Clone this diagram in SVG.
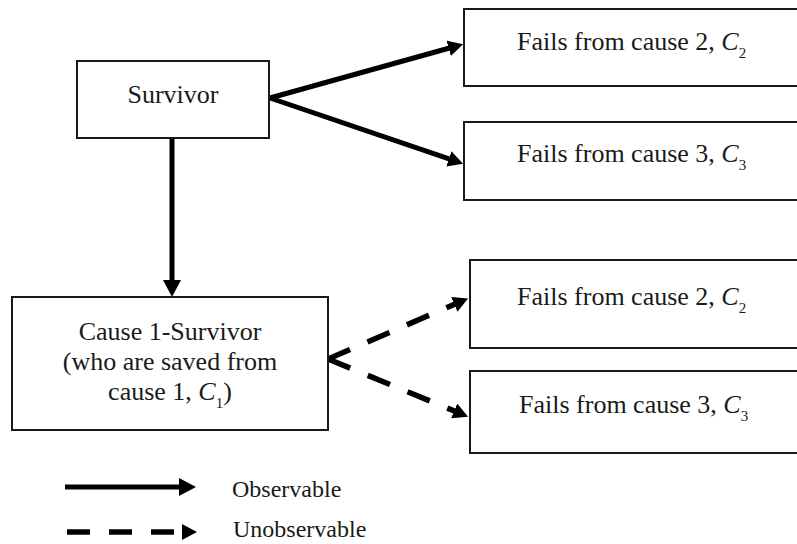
<svg xmlns="http://www.w3.org/2000/svg" width="797" height="544" viewBox="0 0 797 544">
<defs>
<style>
.box{fill:#fff;stroke:#1a1a1a;stroke-width:2}
.lbl{font-family:'Liberation Serif','DejaVu Serif','Times New Roman',serif;font-size:26px;fill:#1a1a1a}
.leg{font-size:24px}
.it{font-style:italic}
.sub{font-size:15px}
.solid{fill:none;stroke:#000;stroke-width:5}
.dash{fill:none;stroke:#000;stroke-width:5.5;stroke-dasharray:24 19}
.dashL{fill:none;stroke:#000;stroke-width:5.5;stroke-dasharray:23 19}
</style>
<marker id="head" viewBox="0 -9 17 18" refX="1" refY="0" markerWidth="17" markerHeight="18" markerUnits="userSpaceOnUse" orient="auto">
<path d="M0,-9 L17,0 L0,9 Z" fill="#000"/>
</marker>
<marker id="headS" viewBox="0 -8 15 16" refX="1" refY="0" markerWidth="15" markerHeight="16" markerUnits="userSpaceOnUse" orient="auto">
<path d="M0,-8 L15,0 L0,8 Z" fill="#000"/>
</marker>
</defs>
<rect width="797" height="544" fill="#fff"/>

<g id="connectors">
<line class="solid" x1="172" y1="138" x2="172" y2="281" marker-end="url(#head)"/>
<line class="solid" x1="270" y1="98" x2="449.6" y2="48" marker-end="url(#headS)"/>
<line class="solid" x1="270" y1="98" x2="449.8" y2="159.2" marker-end="url(#headS)"/>
<line class="dash" x1="328" y1="359" x2="455.2" y2="304" marker-end="url(#headS)"/>
<line class="dash" x1="328" y1="359" x2="455.1" y2="411.3" marker-end="url(#headS)"/>
</g>

<g id="survivor">
<rect class="box" x="77" y="61" width="192" height="77"/>
<text class="lbl" x="173" y="103" text-anchor="middle">Survivor</text>
</g>

<g id="fails2-top">
<rect class="box" x="464" y="9" width="340" height="77"/>
<text class="lbl" x="517" y="50">Fails from cause 2, <tspan class="it">C</tspan><tspan class="sub" dy="8">2</tspan></text>
</g>

<g id="fails3-top">
<rect class="box" x="464" y="122" width="340" height="78"/>
<text class="lbl" x="517" y="162">Fails from cause 3, <tspan class="it">C</tspan><tspan class="sub" dy="8">3</tspan></text>
</g>

<g id="cause1-survivor">
<rect class="box" x="12" y="297" width="316" height="133"/>
<text class="lbl" x="170" y="340" text-anchor="middle">Cause 1-Survivor</text>
<text class="lbl" x="170" y="370" text-anchor="middle">(who are saved from</text>
<text class="lbl" x="170" y="400" text-anchor="middle">cause 1, <tspan class="it">C</tspan><tspan class="sub" dy="8">1</tspan><tspan dy="-8">)</tspan></text>
</g>

<g id="fails2-bottom">
<rect class="box" x="470" y="260" width="340" height="88"/>
<text class="lbl" x="517" y="305">Fails from cause 2, <tspan class="it">C</tspan><tspan class="sub" dy="8">2</tspan></text>
</g>

<g id="fails3-bottom">
<rect class="box" x="470" y="371" width="340" height="82"/>
<text class="lbl" x="519" y="413">Fails from cause 3, <tspan class="it">C</tspan><tspan class="sub" dy="8">3</tspan></text>
</g>

<g id="legend">
<line class="solid" x1="65" y1="487" x2="180" y2="487" marker-end="url(#head)"/>
<text class="lbl leg" x="232" y="497">Observable</text>
<line class="dashL" x1="67" y1="532" x2="183" y2="532" marker-end="url(#headS)"/>
<text class="lbl leg" x="233" y="537">Unobservable</text>
</g>
</svg>
